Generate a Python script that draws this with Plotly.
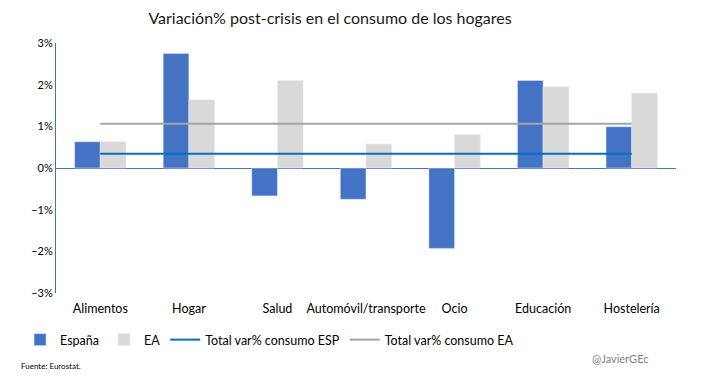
import plotly.graph_objects as go

categories = ["Alimentos", "Hogar", "Salud", "Automóvil/transporte", "Ocio", "Educación", "Hostelería"]
espana = [0.63, 2.75, -0.67, -0.75, -1.93, 2.10, 0.99]
ea = [0.63, 1.64, 2.10, 0.58, 0.80, 1.95, 1.80]
total_esp = [0.34] * len(categories)
total_ea = [1.06] * len(categories)

font_family = "Lato, DejaVu Sans, sans-serif"

fig = go.Figure()
fig.add_trace(go.Bar(x=categories, y=espana, name="España", marker_color="#4472C4"))
fig.add_trace(go.Bar(x=categories, y=ea, name="EA", marker_color="#D9D9D9"))
fig.add_trace(go.Scatter(x=categories, y=total_esp, name="Total var% consumo ESP", mode="lines",
                         line=dict(color="#0070C0", width=2)))
fig.add_trace(go.Scatter(x=categories, y=total_ea, name="Total var% consumo EA", mode="lines",
                         line=dict(color="#A5A5A5", width=2)))

fig.update_layout(
    width=727, height=377,
    paper_bgcolor="white", plot_bgcolor="white",
    margin=dict(l=38, r=59, t=35, b=92),
    barmode="group", bargap=0.42, bargroupgap=0,
    font=dict(family=font_family, size=11, color="#000000"),
    title=dict(text="Variación% post-crisis en el consumo de los hogares", x=0.443, xanchor="center",
               y=0.972, yanchor="middle", font=dict(size=16, color="#1a1a1a")),
    showlegend=True,
    legend=dict(orientation="h", x=-0.058, y=-0.188, xanchor="left", yanchor="middle",
                font=dict(size=12.5), traceorder="normal", itemwidth=30, tracegroupgap=0),
    xaxis=dict(showline=False, ticks="", tickfont=dict(size=12.5), automargin=False,
               ticklabelstandoff=6),
    yaxis=dict(range=[-3, 3], dtick=1, ticksuffix="%", showgrid=False, zeroline=True,
               zerolinecolor="#4472C4", zerolinewidth=1, showline=True, linecolor="#4472C4",
               linewidth=1, tickfont=dict(size=11), automargin=False),
    annotations=[
        dict(text="Fuente: Eurostat.", xref="paper", yref="paper", x=-0.0595, y=-0.292,
             xanchor="left", yanchor="middle", showarrow=False, font=dict(size=8)),
        dict(text="@JavierGEc", xref="paper", yref="paper", x=0.911, y=-0.26,
             xanchor="center", yanchor="middle", showarrow=False, font=dict(size=11, color="#7f7f7f")),
    ],
)

fig.write_html("out.html")
